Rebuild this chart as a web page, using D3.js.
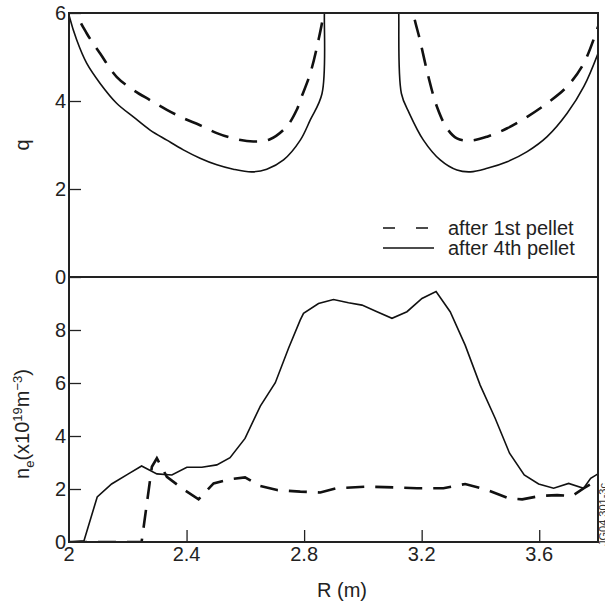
<!DOCTYPE html>
<html lang="en">
<head>
<meta charset="utf-8">
<title>q and density profiles</title>
<script src="https://d3js.org/d3.v7.min.js"></script>
<style>
  html, body { margin: 0; padding: 0; background: #fff; }
  svg { display: block; font-family: "Liberation Sans", Arial, Helvetica, sans-serif; }
  .tick-label { font-size: 20px; fill: #222; }
  .frame { fill: none; stroke: #222; stroke-width: 2; }
</style>
</head>
<body>
<script>
// ---- data ----
// q profile after 1st pellet (dashed), two branches (q goes off scale in the centre)
const q1stLeft = [[2.02,6.4],[2.026,6.0],[2.06,5.54],[2.106,5.08],[2.162,4.55],[2.219,4.25],[2.276,4.02],
  [2.333,3.80],[2.389,3.61],[2.446,3.45],[2.503,3.27],[2.559,3.15],[2.627,3.08],[2.684,3.13],
  [2.741,3.42],[2.775,3.80],[2.787,4.02],[2.821,4.63],[2.849,5.39],[2.866,6.0],[2.870,6.5]];
const q1stRight = [[3.168,6.5],[3.172,6.0],[3.194,5.39],[3.223,4.55],[3.252,3.87],[3.286,3.38],[3.320,3.15],
  [3.366,3.10],[3.423,3.19],[3.491,3.38],[3.559,3.64],[3.627,3.95],[3.695,4.33],[3.752,4.86],[3.80,5.69]];
// q profile after 4th pellet (solid)
const q4thLeft = [[1.995,6.1],[2.0,5.95],[2.026,5.39],[2.06,4.86],[2.106,4.40],[2.162,3.95],[2.219,3.64],
  [2.276,3.34],[2.333,3.11],[2.389,2.89],[2.446,2.70],[2.503,2.55],[2.559,2.45],[2.622,2.39],
  [2.673,2.45],[2.730,2.66],[2.787,3.11],[2.821,3.57],[2.861,4.17],[2.869,6.0],[2.870,6.5]];
const q4thRight = [[3.121,6.5],[3.122,6.0],[3.131,4.17],[3.158,3.72],[3.206,3.11],[3.263,2.66],[3.320,2.43],
  [3.366,2.39],[3.423,2.47],[3.491,2.62],[3.559,2.85],[3.627,3.19],[3.695,3.72],[3.752,4.33],[3.80,5.08]];

// density profiles (10^19 m^-3)
const ne1st = [[2.0,0],[2.247,0],[2.282,2.84],[2.299,3.16],[2.333,2.46],[2.384,2.03],[2.441,1.61],
  [2.492,2.21],[2.548,2.37],[2.599,2.44],[2.651,2.11],[2.708,1.96],[2.787,1.90],[2.855,1.87],
  [2.911,2.03],[3.014,2.09],[3.104,2.06],[3.184,2.03],[3.274,2.03],[3.348,2.19],[3.423,1.96],
  [3.496,1.65],[3.542,1.61],[3.604,1.74],[3.661,1.77],[3.712,1.74],[3.752,2.03],[3.80,2.34]];
const ne4th = [[2.0,0],[2.051,0.05],[2.096,1.70],[2.145,2.19],[2.202,2.57],[2.247,2.87],[2.299,2.57],
  [2.350,2.53],[2.401,2.82],[2.452,2.82],[2.503,2.91],[2.548,3.18],[2.599,3.91],[2.651,5.13],
  [2.702,6.01],[2.747,7.31],[2.787,8.38],[2.798,8.63],[2.849,9.0],[2.90,9.15],[2.951,9.03],
  [2.997,8.94],[3.048,8.69],[3.099,8.44],[3.150,8.69],[3.201,9.19],[3.249,9.45],[3.297,8.69],
  [3.348,7.43],[3.399,5.92],[3.450,4.67],[3.499,3.35],[3.549,2.53],[3.598,2.19],[3.649,2.03],
  [3.700,2.21],[3.751,2.03],[3.775,2.40],[3.80,2.57]];

const rTicks = [2, 2.4, 2.8, 3.2, 3.6];
const qTicks = [0, 2, 4, 6];
const neTicks = [0, 2, 4, 6, 8];
const legendLabels = ["after 1st pellet", "after 4th pellet"];

// ---- layout ----
const W = 605, H = 610;
const pLeft = 69, pRight = 598, pTop = 13, pMid = 277, pBottom = 542;

const x = d3.scaleLinear().domain([2, 3.8]).range([pLeft, pRight]);
const yq = d3.scaleLinear().domain([0, 6]).range([pMid, pTop]);
const yn = d3.scaleLinear().domain([0, 10]).range([pBottom, pMid]);

const svg = d3.select("body").append("svg")
  .attr("width", W).attr("height", H);

const defs = svg.append("defs");
defs.append("clipPath").attr("id", "clipTop").append("rect")
  .attr("x", pLeft).attr("y", pTop).attr("width", pRight - pLeft).attr("height", pMid - pTop);
defs.append("clipPath").attr("id", "clipBot").append("rect")
  .attr("x", pLeft).attr("y", pMid).attr("width", pRight - pLeft).attr("height", pBottom - pMid);

const dashStyle = "18,11";

// top panel curves
const lineQ = d3.line().x(d => x(d[0])).y(d => yq(d[1])).curve(d3.curveCatmullRom.alpha(0.5));
const gTop = svg.append("g").attr("clip-path", "url(#clipTop)");
[q1stLeft, q1stRight].forEach(s => {
  gTop.append("path").attr("d", lineQ(s)).attr("fill", "none")
    .attr("stroke", "#111").attr("stroke-width", 2.6).attr("stroke-dasharray", dashStyle);
});
[q4thLeft, q4thRight].forEach(s => {
  gTop.append("path").attr("d", lineQ(s)).attr("fill", "none")
    .attr("stroke", "#111").attr("stroke-width", 1.6);
});

// bottom panel curves
const lineN = d3.line().x(d => x(d[0])).y(d => yn(d[1]));
const gBot = svg.append("g").attr("clip-path", "url(#clipBot)");
gBot.append("path").attr("d", lineN(ne1st)).attr("fill", "none")
  .attr("stroke", "#111").attr("stroke-width", 2.6).attr("stroke-dasharray", dashStyle);
gBot.append("path").attr("d", lineN(ne4th)).attr("fill", "none")
  .attr("stroke", "#111").attr("stroke-width", 1.6);

// y axes (ticks pointing inward)
svg.append("g").attr("transform", `translate(${pLeft},0)`)
  .call(d3.axisRight(yq).tickValues(qTicks).tickSize(12).tickFormat(""))
  .call(g => g.select(".domain").remove())
  .call(g => g.selectAll("line").attr("stroke", "#222").attr("stroke-width", 1.3));
svg.append("g").attr("transform", `translate(${pLeft},0)`)
  .call(d3.axisRight(yn).tickValues(neTicks.slice(1)).tickSize(12).tickFormat(""))
  .call(g => g.select(".domain").remove())
  .call(g => g.selectAll("line").attr("stroke", "#222").attr("stroke-width", 1.3));

// x axis ticks (inward, bottom panel)
svg.append("g").attr("transform", `translate(0,${pBottom})`)
  .call(d3.axisTop(x).tickValues(rTicks.slice(1)).tickSize(12).tickFormat(""))
  .call(g => g.select(".domain").remove())
  .call(g => g.selectAll("line").attr("stroke", "#222").attr("stroke-width", 1.3));

// tick labels
svg.append("g").selectAll("text").data(qTicks).join("text")
  .attr("class", "tick-label").attr("text-anchor", "end")
  .attr("x", pLeft - 3).attr("y", d => yq(d)).attr("dy", "0.36em").text(d => d);
svg.append("g").selectAll("text").data(neTicks).join("text")
  .attr("class", "tick-label").attr("text-anchor", "end")
  .attr("x", pLeft - 3).attr("y", d => yn(d)).attr("dy", "0.36em").text(d => d);
svg.append("g").selectAll("text").data(rTicks).join("text")
  .attr("class", "tick-label").attr("text-anchor", "middle")
  .attr("x", d => x(d)).attr("y", pBottom + 19).text(d => d3.format("")(d));

// frame
svg.append("rect").attr("class", "frame")
  .attr("x", pLeft).attr("y", pTop).attr("width", pRight - pLeft).attr("height", pBottom - pTop);
svg.append("line").attr("x1", pLeft).attr("x2", pRight).attr("y1", pMid).attr("y2", pMid)
  .attr("stroke", "#222").attr("stroke-width", 2);

// axis titles
svg.append("text").attr("class", "tick-label")
  .attr("transform", `translate(29,${(pTop + pMid) / 2}) rotate(-90)`)
  .attr("text-anchor", "middle").text("q");

const neLabel = svg.append("text").attr("class", "tick-label")
  .attr("transform", `translate(29,424) rotate(-90)`)
  .attr("text-anchor", "middle");
neLabel.append("tspan").text("n");
neLabel.append("tspan").attr("font-size", "13px").attr("dy", 5).text("e");
neLabel.append("tspan").attr("dy", -5).text("(x10");
neLabel.append("tspan").attr("font-size", "13px").attr("dy", -7).text("19");
neLabel.append("tspan").attr("dy", 7).text("m");
neLabel.append("tspan").attr("font-size", "13px").attr("dy", -7).text("\u22123");
neLabel.append("tspan").attr("dy", 7).text(")");

svg.append("text").attr("class", "tick-label")
  .attr("x", 342).attr("y", 597).attr("text-anchor", "middle").text("R (m)");

// legend
const legend = svg.append("g");
legendLabels.forEach((lab, i) => {
  const ly = 228 + i * 20;
  legend.append("line").attr("x1", 383).attr("x2", i === 0 ? 428 : 434)
    .attr("y1", ly).attr("y2", ly).attr("stroke", "#111")
    .attr("stroke-width", i === 0 ? 1.6 : 1.4)
    .attr("stroke-dasharray", i === 0 ? "12,21" : null);
  legend.append("text").attr("class", "tick-label")
    .attr("x", 448).attr("y", ly).attr("dy", "0.35em").text(lab);
});

// figure id on the right edge
svg.append("text")
  .attr("transform", "translate(607,546) rotate(-90)")
  .attr("font-size", "11px").attr("fill", "#333").text("JG04.301-3c");
</script>
</body>
</html>
